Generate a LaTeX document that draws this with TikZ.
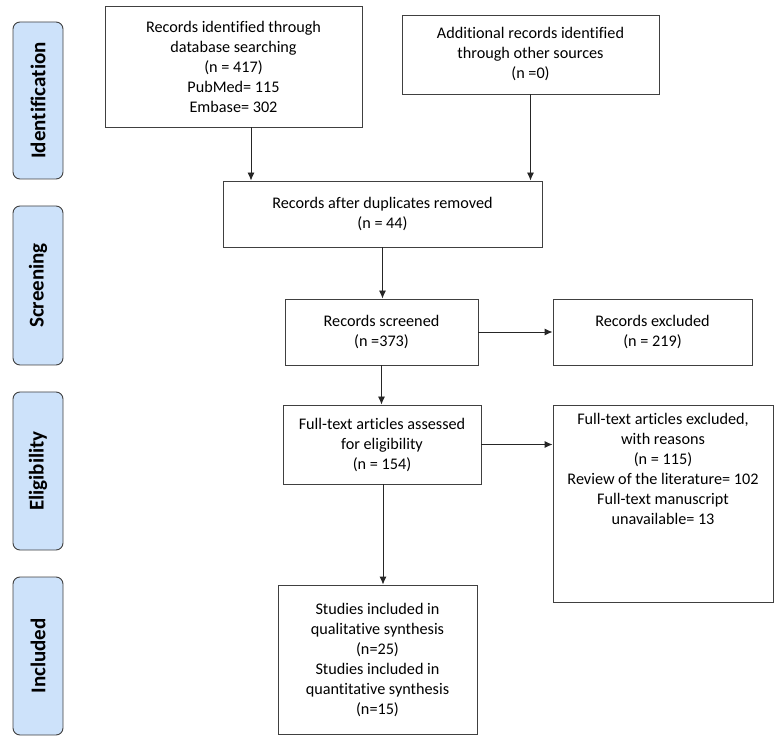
\documentclass[tikz,border=0pt]{standalone}
\usepackage{fontspec}
\setmainfont{Carlito}[Ligatures=NoCommon]
\usetikzlibrary{arrows.meta}
\definecolor{phaseblue}{RGB}{205,226,250}
\tikzset{
  recbox/.style={draw=black!75, line width=0.9pt, align=center, inner sep=2pt,
    font=\fontsize{16.2}{20}\selectfont},
  phase/.style={draw=black!75, line width=0.9pt, fill=phaseblue, rounded corners=7pt,
    rotate=90, font=\fontsize{21}{24}\selectfont\bfseries},
  flow/.style={draw=black!85, line width=0.9pt, -{Latex[length=8pt,width=7pt]}}
}
\begin{document}
\begin{tikzpicture}[x=1pt,y=-1pt]
  \useasboundingbox (0,0) rectangle (777,743);

  % phase labels on the left
  \node[phase, minimum width=157, minimum height=50] (ident) at (38,100.5) {Identification};
  \node[phase, minimum width=159, minimum height=50] (screen) at (38,285.5) {Screening};
  \node[phase, minimum width=158, minimum height=50] (elig) at (38,471) {Eligibility};
  \node[phase, minimum width=158, minimum height=50] (incl) at (38,656) {Included};

  % identification
  \node[recbox, minimum width=257, minimum height=121] (dbsearch) at (233.5,66.5)
    {Records identified through\\database searching\\(n = 417)\\PubMed= 115\\Embase= 302};
  \node[recbox, minimum width=257, minimum height=79] (other) at (530.5,54.5)
    {Additional records identified\\through other sources\\(n =0)};

  % screening
  \node[recbox, minimum width=319, minimum height=66] (dupl) at (382.5,214)
    {Records after duplicates removed\\(n = 44)};
  \node[recbox, minimum width=193, minimum height=66] (screened) at (381.5,332)
    {Records screened\\(n =373)};
  \node[recbox, minimum width=199, minimum height=66] (excl) at (652.5,332)
    {Records excluded\\(n = 219)};

  % eligibility
  \node[recbox, minimum width=198, minimum height=79] (fulltext) at (382,444.5)
    {Full-text articles assessed\\for eligibility\\(n = 154)};
  \node[recbox, minimum width=220, minimum height=197, anchor=north] (ftexcl) at (663,405)
    {\parbox[t][188pt][t]{214pt}{\centering\vspace{3pt}Full-text articles excluded,\\with reasons\\(n = 115)\\Review of the literature= 102\\Full-text manuscript\\unavailable= 13}};

  % included
  \node[recbox, minimum width=199, minimum height=149] (studies) at (377.5,659.5)
    {Studies included in\\qualitative synthesis\\(n=25)\\Studies included in\\quantitative synthesis\\(n=15)};

  % arrows
  \draw[flow] ([xshift=17.5pt]dbsearch.south) -- ([xshift=17.5pt]dbsearch.south |- dupl.north);
  \draw[flow] (other.south) -- (other.south |- dupl.north);
  \draw[flow] (dupl.south) -- (dupl.south |- screened.north);
  \draw[flow] (screened.east) -- (excl.west);
  \draw[flow] (screened.south) -- (screened.south |- fulltext.north);
  \draw[flow] (fulltext.east) -- (fulltext.east -| ftexcl.west);
  \draw[flow] ([xshift=1pt]fulltext.south) -- ([xshift=1pt]fulltext.south |- studies.north);

\end{tikzpicture}
\end{document}
